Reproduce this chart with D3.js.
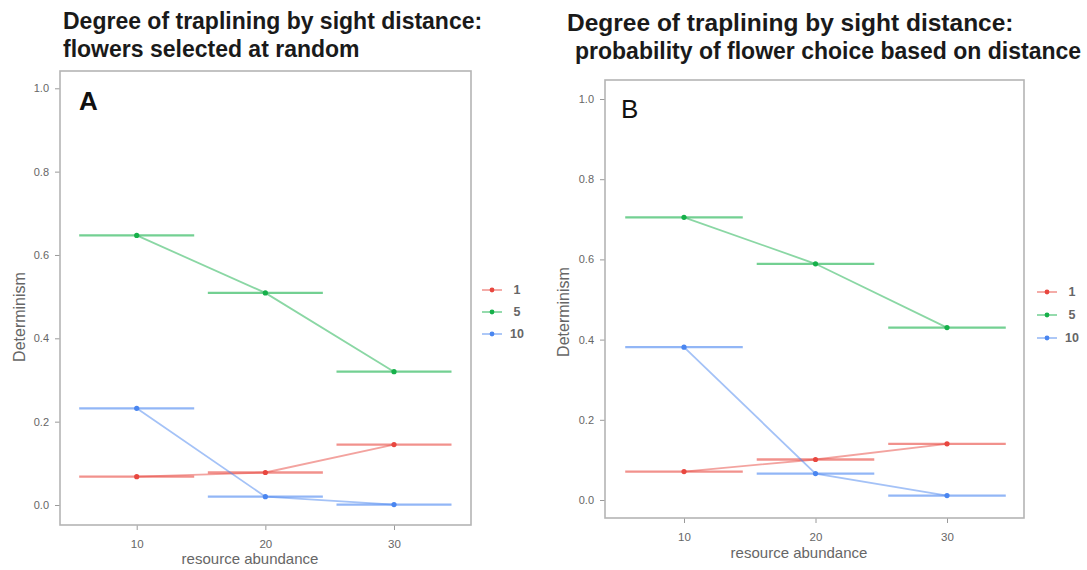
<!DOCTYPE html>
<html>
<head>
<meta charset="utf-8">
<script src="https://cdnjs.cloudflare.com/ajax/libs/d3/7.8.5/d3.min.js"></script>
<style>
    body { margin: 0; background: #fff; }
    svg { display: block; font-family: "Liberation Sans", Arial, sans-serif; }
</style>
</head>
<body>
<div id="chart"></div>
<script>
// data
const sightDistances = ["1", "5", "10"];
const abundance = [10, 20, 30];
const yTicks = [0, 0.2, 0.4, 0.6, 0.8, 1.0];

// panel A: flowers selected at random
const randomDist1 = [0.068, 0.078, 0.145];
const randomDist5 = [0.647, 0.509, 0.320];
const randomDist10 = [0.232, 0.020, 0.001];

// panel B: choice based on distance
const choiceDist1 = [0.071, 0.101, 0.140];
const choiceDist5 = [0.705, 0.589, 0.430];
const choiceDist10 = [0.381, 0.066, 0.011];

const titleA = ["Degree of traplining by sight distance:", "flowers selected at random"];
const titleB = ["Degree of traplining by sight distance:", "probability of flower choice based on distance"];

const colors = ["#E8473F", "#16B04A", "#4A86F0"];
const halfBar = 4.47; // half width of the horizontal bars, in abundance units

const svg = d3.select("#chart").append("svg")
    .attr("width", 1087)
    .attr("height", 570);

function drawPanel(p) {
    var g = svg.append("g");

    var x = d3.scaleLinear().domain([10, 30]).range([p.x10, p.x30]);
    var y = d3.scaleLinear().domain([0, 1]).range([p.y0, p.y1]);

    // titles
    p.title.forEach(function (t, i) {
        g.append("text")
            .attr("x", p.titleX[i])
            .attr("y", p.titleY[i])
            .style("font-size", p.titleSize[i] + "px")
            .style("font-weight", "bold")
            .style("fill", "#1a1a1a")
            .text(t);
    });

    // y axis
    var yAxis = g.append("g")
        .attr("transform", "translate(" + p.left + ",0)")
        .call(d3.axisLeft(y).tickValues(yTicks).tickFormat(d3.format(".1f")).tickSize(5).tickPadding(6));
    yAxis.select(".domain").remove();
    yAxis.selectAll("line").attr("stroke", "#9a9a9a");
    yAxis.selectAll("text").style("font-size", "11px").style("fill", "#666")
        .style("font-family", "Liberation Sans, Arial");

    // x axis
    var xAxis = g.append("g")
        .attr("transform", "translate(0," + p.bottom + ")")
        .call(d3.axisBottom(x).tickValues(abundance).tickSize(5).tickPadding(10));
    xAxis.select(".domain").remove();
    xAxis.selectAll("line").attr("stroke", "#9a9a9a");
    xAxis.selectAll("text").style("font-size", "11.5px").style("fill", "#666")
        .style("font-family", "Liberation Sans, Arial");

    // panel border
    g.append("rect")
        .attr("x", p.left)
        .attr("y", p.top)
        .attr("width", p.right - p.left)
        .attr("height", p.bottom - p.top)
        .attr("fill", "none")
        .attr("stroke", "#b5b5b5")
        .attr("stroke-width", 1.6);

    // axis labels
    g.append("text")
        .attr("transform", "translate(" + p.ylabX + "," + p.ylabY + ") rotate(-90)")
        .attr("text-anchor", "middle")
        .attr("dy", "0.35em")
        .style("font-size", "16px")
        .style("fill", "#666")
        .text("Determinism");

    g.append("text")
        .attr("x", p.xlabX)
        .attr("y", p.xlabY)
        .attr("text-anchor", "middle")
        .attr("dy", "0.35em")
        .style("font-size", "15px")
        .style("fill", "#666")
        .text("resource abundance");

    // panel letter
    g.append("text")
        .attr("x", p.letterX)
        .attr("y", p.letterY)
        .style("font-size", "26px")
        .style("font-weight", p.letterWeight)
        .style("fill", "#111")
        .text(p.letter);

    // series
    var line = d3.line()
        .x(function (d, i) { return x(abundance[i]); })
        .y(function (d) { return y(d); });

    p.series.forEach(function (vals, s) {
        var sg = g.append("g");
        sg.selectAll("line.bar")
            .data(vals)
            .enter()
            .append("line")
            .attr("class", "bar")
            .attr("x1", function (d, i) { return x(abundance[i] - halfBar); })
            .attr("x2", function (d, i) { return x(abundance[i] + halfBar); })
            .attr("y1", function (d) { return y(d); })
            .attr("y2", function (d) { return y(d); })
            .attr("stroke", colors[s])
            .attr("stroke-opacity", 0.6)
            .attr("stroke-width", 2.3);

        sg.append("path")
            .datum(vals)
            .attr("d", line)
            .attr("fill", "none")
            .attr("stroke", colors[s])
            .attr("stroke-opacity", 0.5)
            .attr("stroke-width", 1.8);

        sg.selectAll("circle")
            .data(vals)
            .enter()
            .append("circle")
            .attr("cx", function (d, i) { return x(abundance[i]); })
            .attr("cy", function (d) { return y(d); })
            .attr("r", 2.6)
            .attr("fill", colors[s]);
    });

    // legend
    var leg = g.append("g");
    sightDistances.forEach(function (lab, i) {
        var ly = p.legY + i * p.legStep;
        leg.append("line")
            .attr("x1", p.legX).attr("x2", p.legX + 20)
            .attr("y1", ly).attr("y2", ly)
            .attr("stroke", colors[i])
            .attr("stroke-opacity", 0.5)
            .attr("stroke-width", 1.8);
        leg.append("circle")
            .attr("cx", p.legX + 10).attr("cy", ly)
            .attr("r", 2.4)
            .attr("fill", colors[i]);
        leg.append("text")
            .attr("x", p.legX + 35)
            .attr("y", ly)
            .attr("dy", "0.35em")
            .attr("text-anchor", "middle")
            .style("font-size", "12.5px")
            .style("font-weight", "bold")
            .style("fill", "#666")
            .text(lab);
    });
}

drawPanel({
    title: titleA, titleX: [63, 63], titleY: [29, 57], titleSize: [23, 23],
    left: 60, right: 471, top: 71, bottom: 525,
    x10: 136.7, x30: 394, y0: 505, y1: 88.3,
    ylabX: 19, ylabY: 317, xlabX: 250, xlabY: 559,
    letter: "A", letterX: 79, letterY: 110, letterWeight: "bold",
    legX: 482, legY: 290, legStep: 22,
    series: [randomDist1, randomDist5, randomDist10]
});

drawPanel({
    title: titleB, titleX: [567, 575], titleY: [31, 59], titleSize: [24.5, 23],
    left: 605, right: 1024, top: 80, bottom: 518,
    x10: 684, x30: 947, y0: 500, y1: 99,
    ylabX: 563, ylabY: 312, xlabX: 799, xlabY: 553,
    letter: "B", letterX: 621, letterY: 118, letterWeight: "normal",
    legX: 1037, legY: 292, legStep: 23,
    series: [choiceDist1, choiceDist5, choiceDist10]
});
</script>
</body>
</html>
